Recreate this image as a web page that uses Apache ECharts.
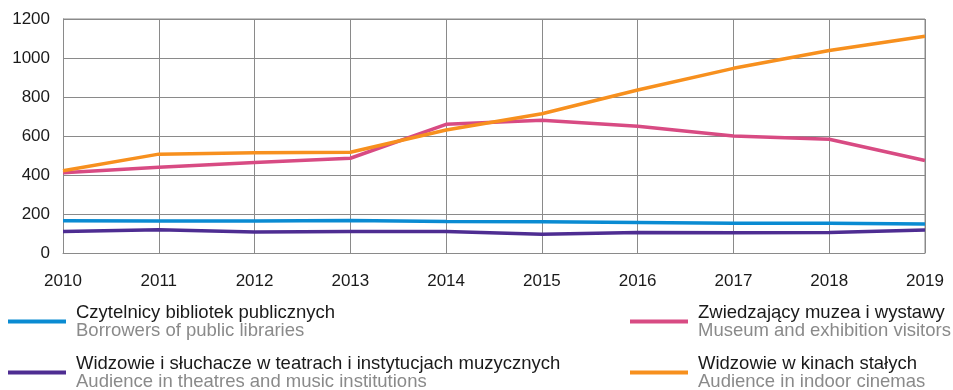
<!DOCTYPE html>
<html>
<head>
<meta charset="utf-8">
<script src="https://cdn.jsdelivr.net/npm/echarts@6/dist/echarts.min.js"></script>
<style>
  html, body { margin: 0; padding: 0; background: #fff; }
  #chart { width: 953px; height: 390px; }
</style>
</head>
<body>
<div id="chart"></div>
<script>
// Years on the category axis
const years = ['2010', '2011', '2012', '2013', '2014', '2015', '2016', '2017', '2018', '2019'];

// Series values (thousands per year)
const libraryBorrowers = [166, 164, 164, 167, 161, 160, 157, 152, 152, 149];
const theatreAudience  = [110, 119, 108, 110, 110, 96, 105, 104, 105, 118];
const museumVisitors   = [412, 440, 464, 486, 660, 681, 650, 600, 583, 474];
const cinemaAudience   = [422, 507, 514, 517, 631, 714, 836, 947, 1038, 1112];

// Legend labels: Polish name + English name
const namesPl = [
  'Czytelnicy bibliotek publicznych',
  'Widzowie i słuchacze w teatrach i instytucjach muzycznych',
  'Zwiedzający muzea i wystawy',
  'Widzowie w kinach stałych'
];
const namesEn = [
  'Borrowers of public libraries',
  'Audience in theatres and music institutions',
  'Museum and exhibition visitors',
  'Audience in indoor cinemas'
];

const colors = ['#0a8bd2', '#4e2d92', '#d84b83', '#f7901e'];
const seriesData = [libraryBorrowers, theatreAudience, museumVisitors, cinemaAudience];

const FONT = '"Liberation Sans", Arial, sans-serif';

const chart = echarts.init(document.getElementById('chart'), null, { renderer: 'canvas' });

// One legend column holding two two-line entries
function legendBlock(indices, left) {
  return {
    orient: 'vertical',
    left: left,
    top: 303,
    height: 100,
    padding: 0,
    itemWidth: 58,
    itemHeight: 4,
    itemGap: 14,
    icon: 'rect',
    selectedMode: false,
    data: indices.map(i => ({ name: namesPl[i], icon: 'rect' })),
    formatter: function (name) {
      const i = namesPl.indexOf(name);
      return '{a|' + namesPl[i] + '}\n{b|' + namesEn[i] + '}';
    },
    textStyle: {
      fontFamily: FONT,
      padding: [0, 0, 0, 5],
      rich: {
        a: { fontSize: 18.5, color: '#1a1a1a', fontFamily: FONT, lineHeight: 18 },
        b: { fontSize: 18.5, color: '#8a8a8a', fontFamily: FONT, lineHeight: 18 }
      }
    }
  };
}

chart.setOption({
  animation: false,
  backgroundColor: '#ffffff',
  color: colors,
  grid: { left: 63, right: 28, top: 19, bottom: 137, containLabel: false },
  legend: [legendBlock([0, 1], 8), legendBlock([2, 3], 630)],
  xAxis: {
    type: 'category',
    data: years,
    boundaryGap: false,
    axisLine: { show: true, lineStyle: { color: '#8a8a8a', width: 1 } },
    axisTick: { show: false },
    splitLine: { show: true, lineStyle: { color: '#8a8a8a', width: 1 } },
    axisLabel: { color: '#1a1a1a', fontSize: 17, fontFamily: FONT, margin: 20 }
  },
  yAxis: {
    type: 'value',
    min: 0,
    max: 1200,
    interval: 200,
    axisLine: { show: true, lineStyle: { color: '#8a8a8a', width: 1 } },
    axisTick: { show: false },
    splitLine: { show: true, lineStyle: { color: '#8a8a8a', width: 1 } },
    axisLabel: {
      color: '#1a1a1a', fontSize: 17, fontFamily: FONT, margin: 13,
      formatter: v => String(v)
    }
  },
  series: seriesData.map((d, i) => ({
    name: namesPl[i],
    type: 'line',
    data: d,
    symbol: 'none',
    lineStyle: { width: 3.5, color: colors[i] },
    itemStyle: { color: colors[i] },
    z: 2 + i
  })),
  graphic: [{
    type: 'line',
    shape: { x1: 925, y1: 19, x2: 925, y2: 253 },
    style: { stroke: '#8a8a8a', lineWidth: 1 },
    silent: true
  }, {
    type: 'line',
    shape: { x1: 63, y1: 19, x2: 925, y2: 19 },
    style: { stroke: '#8a8a8a', lineWidth: 1 },
    silent: true
  }]
});
</script>
</body>
</html>
